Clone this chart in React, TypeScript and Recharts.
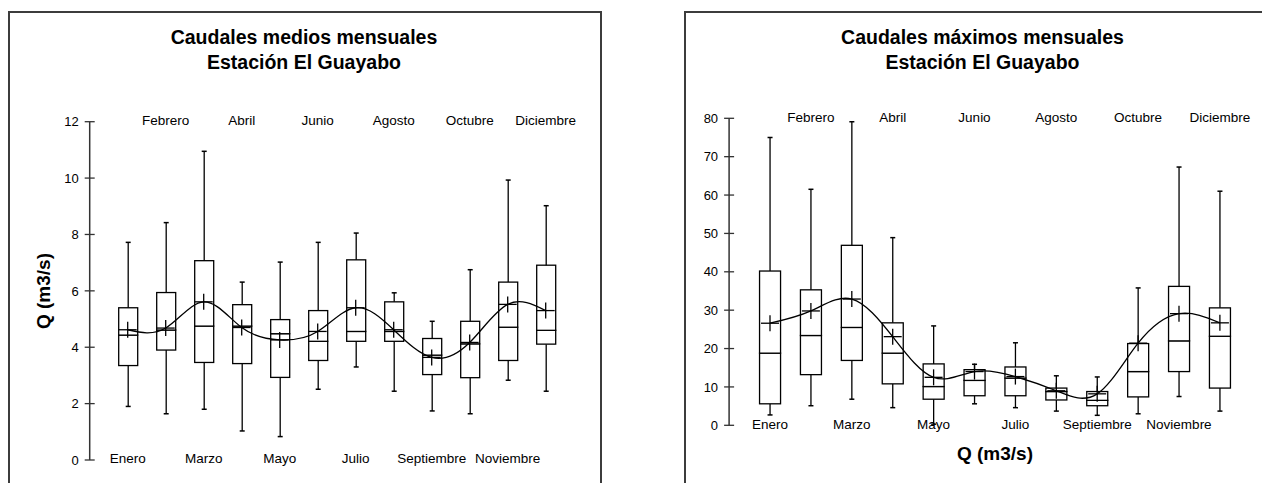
import React from "react";
import { ComposedChart, Bar, Line, XAxis, YAxis } from "recharts";

const months = [
  "Enero", "Febrero", "Marzo", "Abril", "Mayo", "Junio",
  "Julio", "Agosto", "Septiembre", "Octubre", "Noviembre", "Diciembre",
];

// caudales medios (m3/s)
const mediosMin = [1.9, 1.64, 1.8, 1.03, 0.83, 2.51, 3.3, 2.44, 1.74, 1.64, 2.83, 2.44];
const mediosQ1 = [3.35, 3.9, 3.46, 3.42, 2.93, 3.53, 4.21, 4.21, 3.03, 2.92, 3.53, 4.11];
const mediosMedian = [4.43, 4.61, 4.75, 4.75, 4.48, 4.21, 4.56, 4.56, 3.72, 4.12, 4.71, 4.6];
const mediosQ3 = [5.4, 5.94, 7.07, 5.51, 4.98, 5.3, 7.1, 5.61, 4.31, 4.92, 6.31, 6.91];
const mediosMax = [7.72, 8.42, 10.95, 6.31, 7.02, 7.72, 8.05, 5.93, 4.92, 6.75, 9.93, 9.02];
const mediosMean = [4.62, 4.68, 5.61, 4.7, 4.26, 4.56, 5.4, 4.62, 3.64, 4.17, 5.52, 5.3];

// caudales maximos (m3/s)
const maxMin = [2.7, 5.1, 6.8, 4.6, 0.3, 5.6, 4.6, 3.7, 2.6, 3.0, 7.5, 3.7];
const maxQ1 = [5.6, 13.2, 16.9, 10.8, 6.8, 7.7, 7.7, 6.6, 5.1, 7.4, 14.0, 9.7];
const maxMedian = [18.8, 23.4, 25.5, 18.8, 10.1, 11.7, 12.3, 8.8, 6.5, 14.0, 22.0, 23.2];
const maxQ3 = [40.2, 35.3, 46.9, 26.7, 16.0, 14.5, 15.2, 9.7, 8.8, 21.3, 36.2, 30.6];
const maxMax = [75.0, 61.5, 79.1, 48.9, 25.9, 15.9, 21.5, 12.9, 12.6, 35.8, 67.3, 61.0];
const maxMean = [26.6, 29.8, 32.9, 23.1, 12.5, 14.0, 12.7, 9.0, 8.2, 21.4, 29.1, 26.7];

const oddTicks = [1, 3, 5, 7, 9, 11];
const evenTicks = [2, 4, 6, 8, 10, 12];
const mediosTicks = [0, 2, 4, 6, 8, 10, 12];
const maxTicks = [0, 10, 20, 30, 40, 50, 60, 70, 80];

const FONT = "'Liberation Sans', Arial, sans-serif";

function buildRows(min: number[], q1: number[], med: number[], q3: number[], max: number[], mean: number[]) {
  return months.map((m, i) => ({
    x: i + 1,
    month: m,
    base: min[i],
    lowW: q1[i] - min[i],
    lowB: med[i] - q1[i],
    highB: q3[i] - med[i],
    highW: max[i] - q3[i],
    mean: mean[i],
  }));
}

const LowWhisker = (p: any) => {
  const cx = p.x + p.width / 2;
  const yb = p.y + p.height;
  return (
    <g>
      <line x1={cx} x2={cx} y1={p.y} y2={yb} stroke="#000" strokeWidth={1.3} />
      <line x1={cx - 2.5} x2={cx + 2.5} y1={yb} y2={yb} stroke="#000" strokeWidth={1.5} />
    </g>
  );
};

const HighWhisker = (p: any) => {
  const cx = p.x + p.width / 2;
  return (
    <g>
      <line x1={cx} x2={cx} y1={p.y} y2={p.y + p.height} stroke="#000" strokeWidth={1.3} />
      <line x1={cx - 2.5} x2={cx + 2.5} y1={p.y} y2={p.y} stroke="#000" strokeWidth={1.5} />
    </g>
  );
};

const BoxPart = (p: any) => (
  <rect x={p.x} y={p.y} width={p.width} height={p.height} fill="#fff" stroke="#000" strokeWidth={1.3} />
);

const PlusDot = (p: any) => {
  const { cx, cy } = p;
  if (cx == null || cy == null) return null;
  return (
    <g key={p.index}>
      <line x1={cx - 9} x2={cx + 9} y1={cy} y2={cy} stroke="#000" strokeWidth={1.3} />
      <line x1={cx} x2={cx} y1={cy - 8} y2={cy + 8} stroke="#000" strokeWidth={1.3} />
    </g>
  );
};

const MonthTick = (p: any) => (
  <text x={p.x} y={p.y - 1.5} dy="0.36em" textAnchor="middle" fontSize={13.5} fontFamily={FONT} fill="#000">
    {months[p.payload.value - 1]}
  </text>
);

const ValueTick = (p: any) => (
  <g>
    <line x1={p.x - 5} x2={p.x + 5} y1={p.y} y2={p.y} stroke="#333" strokeWidth={1.3} />
    <text x={p.x - 11} y={p.y} dy="0.36em" textAnchor="end" fontSize={13} fontFamily={FONT} fill="#000">
      {p.payload.value}
    </text>
  </g>
);

interface BoxChartProps {
  rows: any[];
  width: number;
  height: number;
  margin: { top: number; right: number; bottom: number; left: number };
  yMax: number;
  yTicks: number[];
  barSize: number;
  yLabel?: React.ReactNode;
}

const BoxChart: React.FC<BoxChartProps> = ({ rows, width, height, margin, yMax, yTicks, barSize, yLabel }) => (
  <ComposedChart width={width} height={height} data={rows} margin={margin}>
    <XAxis
      xAxisId="bottom"
      dataKey="x"
      type="number"
      domain={[0, 13]}
      ticks={oddTicks}
      height={10}
      axisLine={false}
      tickLine={false}
      tickSize={0}
      tickMargin={0}
      tick={<MonthTick />}
      interval={0}
    />
    <XAxis
      xAxisId="top"
      dataKey="x"
      orientation="top"
      type="number"
      domain={[0, 13]}
      ticks={evenTicks}
      height={10}
      axisLine={false}
      tickLine={false}
      tickSize={0}
      tickMargin={0}
      tick={<MonthTick />}
      interval={0}
    />
    <YAxis
      type="number"
      domain={[0, yMax]}
      ticks={yTicks}
      width={40}
      axisLine={{ stroke: "#333", strokeWidth: 1.5 }}
      tickLine={false}
      tickSize={0}
      tickMargin={0}
      tick={<ValueTick />}
      interval={0}
      label={yLabel ? { content: () => yLabel } : undefined}
    />
    <Bar xAxisId="bottom" dataKey="base" stackId="b" barSize={barSize} fill="transparent" isAnimationActive={false} />
    <Bar xAxisId="bottom" dataKey="lowW" stackId="b" barSize={barSize} shape={LowWhisker} isAnimationActive={false} />
    <Bar xAxisId="bottom" dataKey="lowB" stackId="b" barSize={barSize} shape={BoxPart} isAnimationActive={false} />
    <Bar xAxisId="bottom" dataKey="highB" stackId="b" barSize={barSize} shape={BoxPart} isAnimationActive={false} />
    <Bar xAxisId="bottom" dataKey="highW" stackId="b" barSize={barSize} shape={HighWhisker} isAnimationActive={false} />
    <Line
      xAxisId="bottom"
      dataKey="mean"
      type="natural"
      stroke="#000"
      strokeWidth={1.3}
      dot={PlusDot}
      activeDot={false}
      isAnimationActive={false}
    />
  </ComposedChart>
);

const titleStyle: React.CSSProperties = {
  position: "absolute",
  fontFamily: FONT,
  fontWeight: "bold",
  fontSize: 19.5,
  lineHeight: "25px",
  textAlign: "center",
  color: "#000",
};

export default function App() {
  const mediosRows = buildRows(mediosMin, mediosQ1, mediosMedian, mediosQ3, mediosMax, mediosMean);
  const maxRows = buildRows(maxMin, maxQ1, maxMedian, maxQ3, maxMax, maxMean);

  return (
    <div style={{ position: "absolute", left: 0, top: 0, width: 1262, height: 483, overflow: "hidden", background: "#fff" }}>
      {/* marcos */}
      <div style={{ position: "absolute", left: 8, top: 11, width: 590, height: 500, border: "2px solid #3c3c3c" }} />
      <div style={{ position: "absolute", left: 684, top: 11, width: 600, height: 500, border: "2px solid #3c3c3c" }} />

      <div style={{ ...titleStyle, left: 9, top: 25, width: 590 }}>
        Caudales medios mensuales
        <br />
        Estación El Guayabo
      </div>
      <div style={{ ...titleStyle, left: 695, top: 25, width: 575 }}>
        Caudales máximos mensuales
        <br />
        Estación El Guayabo
      </div>

      <div style={{ position: "absolute", left: 0, top: 0 }}>
        <BoxChart
          rows={mediosRows}
          width={600}
          height={483}
          margin={{ top: 111.7, right: 16.3, bottom: 13, left: 49.7 }}
          yMax={12}
          yTicks={mediosTicks}
          barSize={19}
          yLabel={
            <text
              x={43}
              y={291}
              transform="rotate(-90 43 291)"
              textAnchor="middle"
              dy="0.36em"
              fontSize={19}
              fontWeight="bold"
              fontFamily={FONT}
              fill="#000"
            >
              Q (m3/s)
            </text>
          }
        />
      </div>

      <div style={{ position: "absolute", left: 680, top: 0 }}>
        <BoxChart
          rows={maxRows}
          width={582}
          height={483}
          margin={{ top: 108.3, right: 1.2, bottom: 47.7, left: 9.1 }}
          yMax={80}
          yTicks={maxTicks}
          barSize={21}
        />
      </div>

      <div
        style={{
          position: "absolute",
          left: 895,
          top: 443,
          width: 200,
          textAlign: "center",
          fontFamily: FONT,
          fontWeight: "bold",
          fontSize: 19,
          color: "#000",
        }}
      >
        Q (m3/s)
      </div>
    </div>
  );
}
